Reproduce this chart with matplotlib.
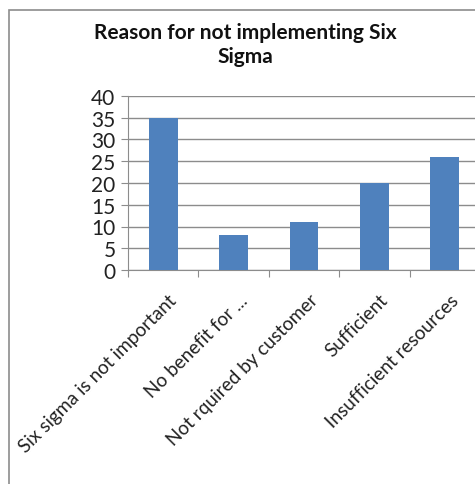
import matplotlib.pyplot as plt
from matplotlib.patches import Rectangle

reasons = [
    "Six sigma is not important",
    "No benefit for ...",
    "Not rquired by customer",
    "Sufficient",
    "Insufficient resources",
]
counts = [35, 8, 11, 20, 26]
y_ticks = [0, 5, 10, 15, 20, 25, 30, 35, 40]

plt.rcParams["font.family"] = ["Lato", "DejaVu Sans"]

W, H = 475, 485
fig = plt.figure(figsize=(W / 100, H / 100), dpi=100)

# outer chart frame (right edge falls outside the canvas)
fig.patches.append(Rectangle((9 / W, -0.1), 1.2, 1 - 11 / H + 0.1,
                             transform=fig.transFigure, fill=False,
                             edgecolor="#8c8c8c", linewidth=1.2))

# plot area in pixel coordinates
left, right, top, bottom = 128, 480, 97, 271
ax = fig.add_axes([left / W, 1 - bottom / H, (right - left) / W, (bottom - top) / H])

x = range(len(reasons))
ax.bar(x, counts, width=0.41, color="#4f81bd", zorder=3)
ax.set_xlim(-0.5, len(reasons) - 0.5)
ax.set_ylim(0, 40)
ax.set_yticks(y_ticks)
ax.yaxis.grid(True, color="#8c8c8c", linewidth=1)
ax.set_axisbelow(True)

for side in ["top", "right"]:
    ax.spines[side].set_visible(False)
for side in ["left", "bottom"]:
    ax.spines[side].set_color("#8c8c8c")

# category boundaries as ticks
ax.set_xticks([i - 0.5 for i in range(len(reasons) + 1)], minor=False)
ax.set_xticklabels([])
ax.tick_params(axis="x", length=5, color="#8c8c8c", direction="out")
ax.tick_params(axis="y", length=5, color="#8c8c8c", labelsize=15, pad=4,
               labelcolor="#222222")

for i, name in enumerate(reasons):
    ax.text(i + 0.07, -4.8, name, rotation=45, ha="right", va="top",
            rotation_mode="anchor", fontsize=13.7, color="#222222")

fig.text(245 / W, 1 - 45 / H, "Reason for not implementing Six\nSigma",
         ha="center", va="center", fontsize=15, fontweight="bold",
         color="#111111", linespacing=1.3)

fig.savefig("out.png", dpi=100)
